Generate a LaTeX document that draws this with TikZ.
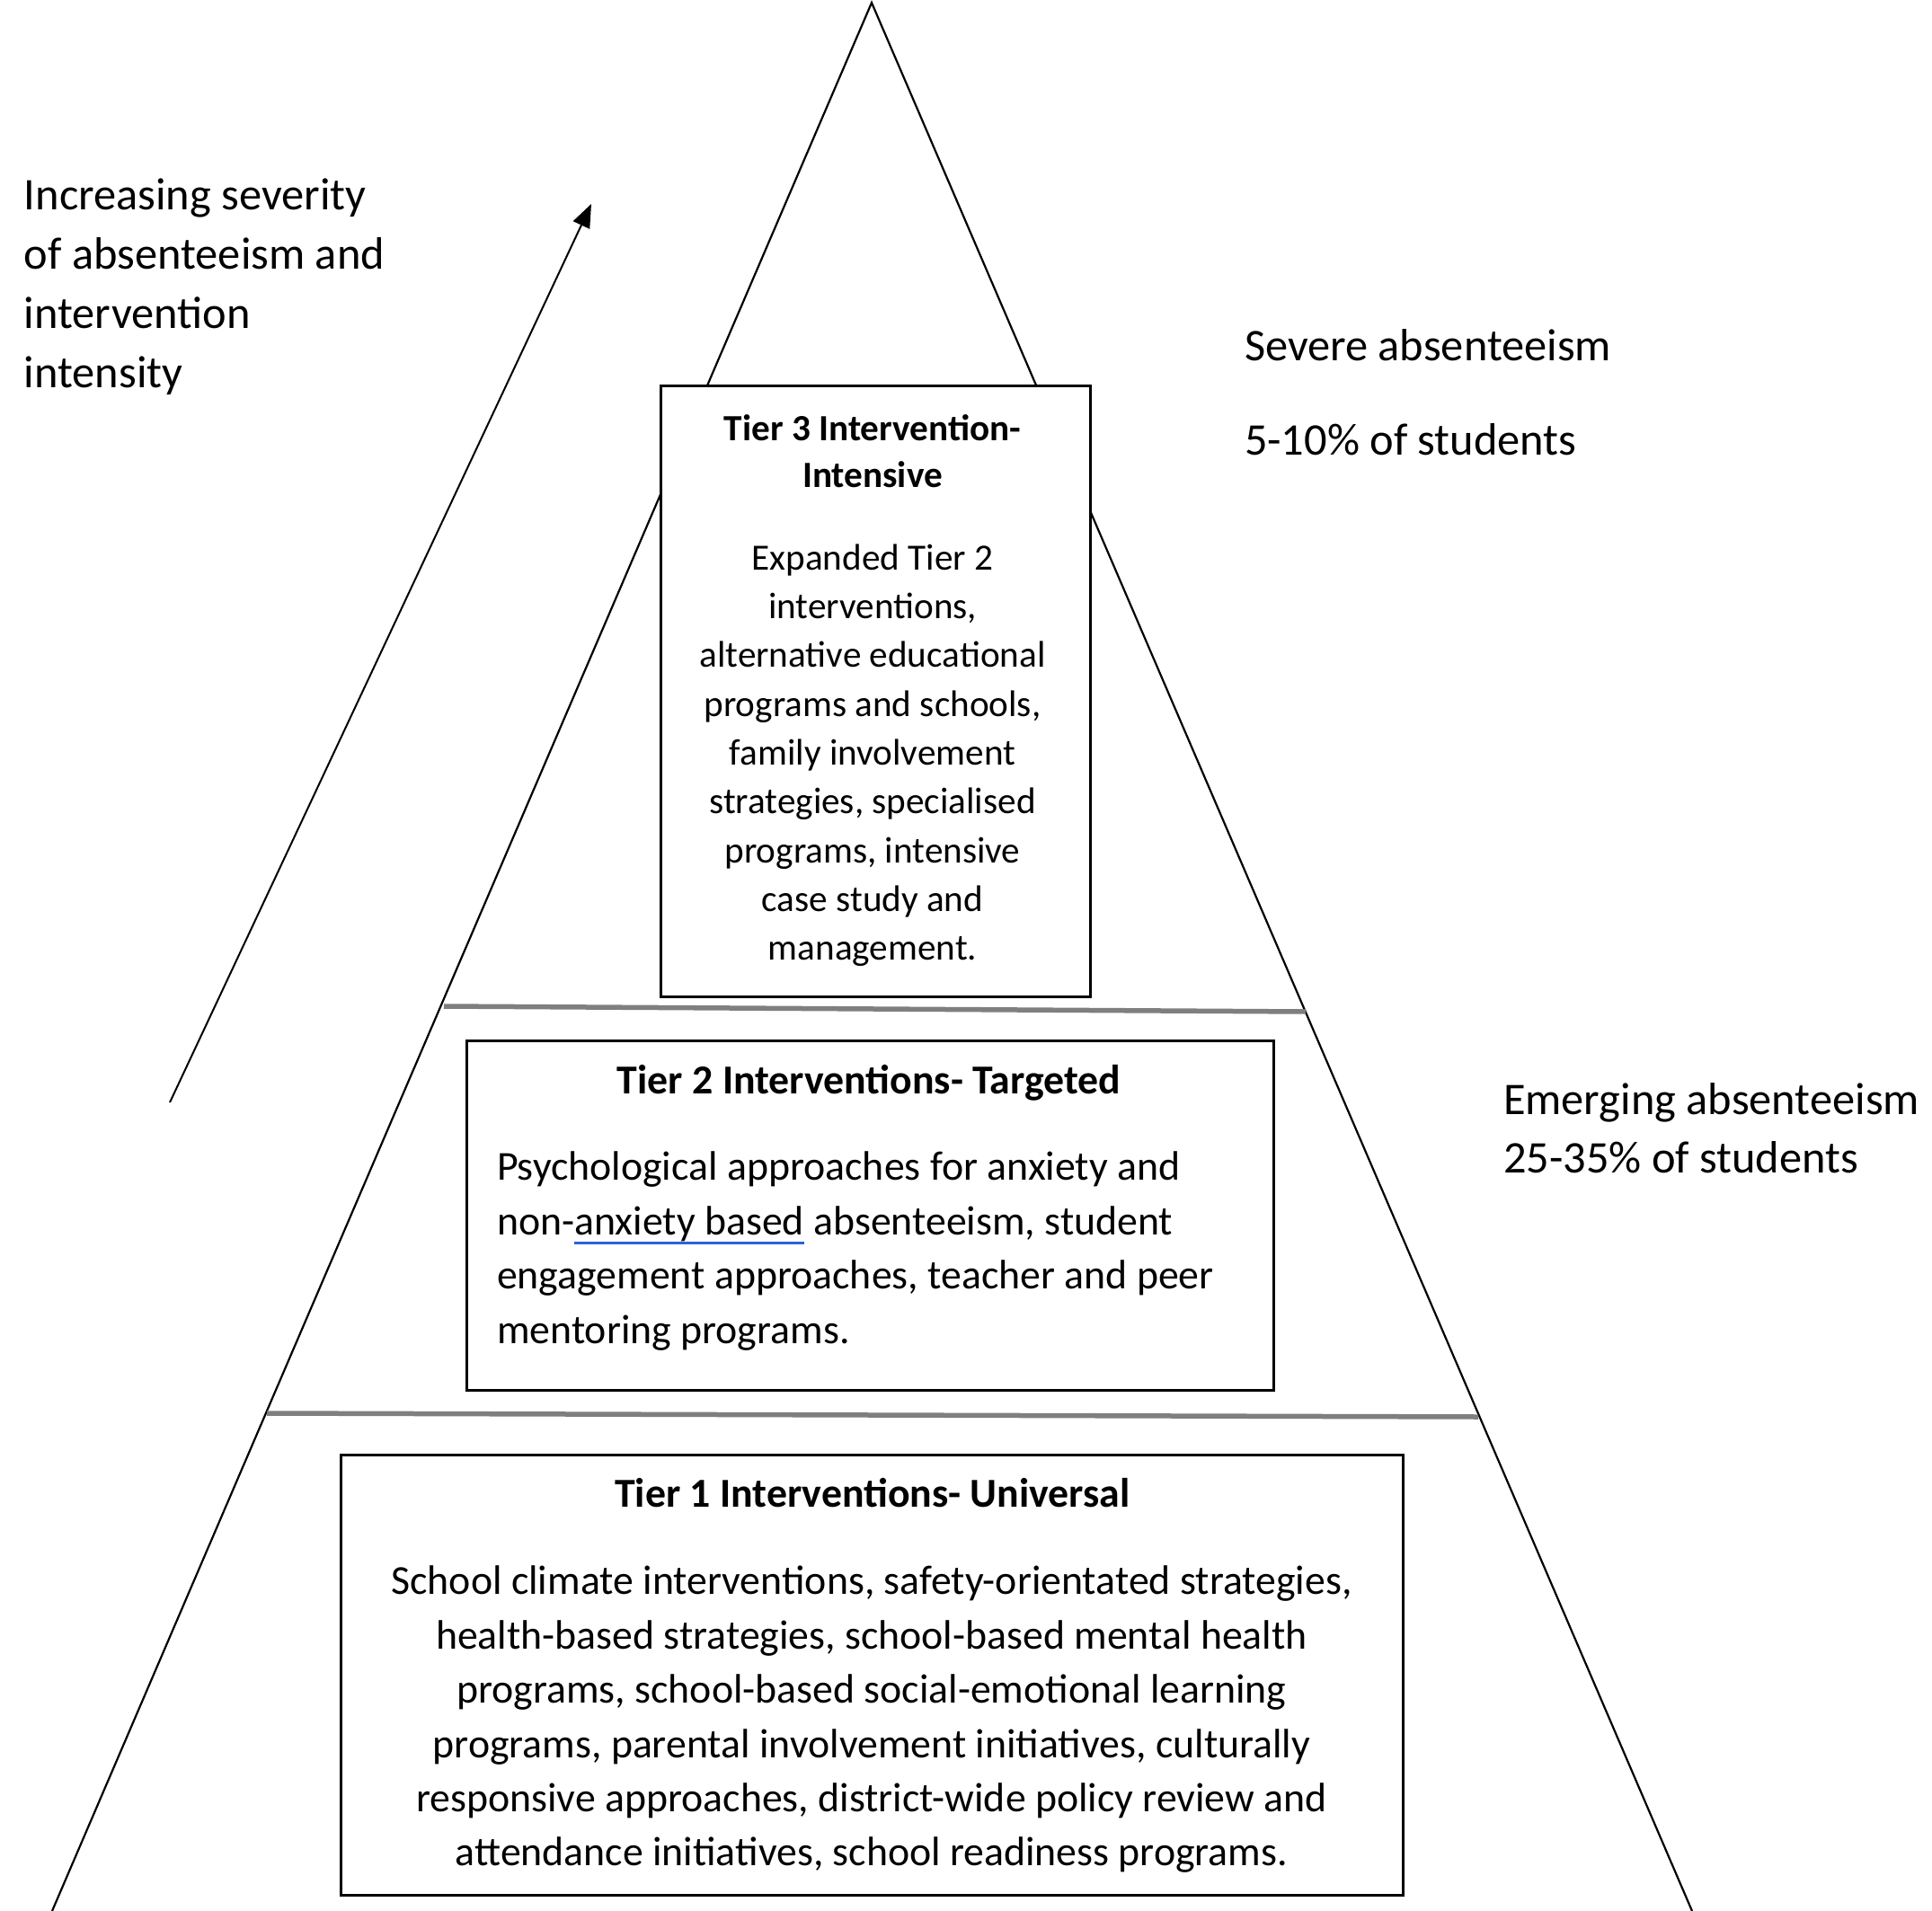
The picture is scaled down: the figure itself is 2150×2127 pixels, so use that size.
\documentclass[tikz,border=0pt]{standalone}
\usepackage{fontspec}
\setmainfont{Carlito}
\usetikzlibrary{arrows.meta}
\definecolor{tierline}{HTML}{7F7F7F}
\definecolor{spellblue}{HTML}{2B62D9}
\newsavebox{\spellbox}
\newcommand{\spellul}[1]{\sbox{\spellbox}{#1}\rlap{\textcolor{spellblue}{\rule[-0.24em]{\wd\spellbox}{0.08em}}}\usebox{\spellbox}}
\newcommand{\firstline}{\rule{0pt}{1em}}
\tikzset{
  pyr/.style={draw=black, line width=2.2pt},
  tierln/.style={draw=tierline, line width=5.5pt},
  tierbox/.style={draw=black, line width=3pt, fill=white, inner sep=0pt, anchor=north west},
  txt/.style={inner sep=0pt, outer sep=0pt, text=black},
  bigtxt/.style={txt, font=\fontsize{50.4}{66}\selectfont},
  midtxt/.style={txt, font=\fontsize{45.8}{60.4}\selectfont},
  midbold/.style={txt, font=\bfseries\fontsize{45.8}{60.4}\selectfont},
  arrowln/.style={draw=black, line width=2pt, -{Triangle[length=26pt,width=20pt]}}
}
\begin{document}
\begin{tikzpicture}[x=1pt, y=-1pt]
\useasboundingbox (0,0) rectangle (2150,2127);
% pyramid
\coordinate (apex) at (970,3);
\coordinate (bl) at (58,2127);
\coordinate (br) at (1883,2127);
\draw[pyr] (bl) -- (apex) -- (br);
% tier dividing lines
\coordinate (aL) at (494,1120);
\coordinate (aR) at (1453,1126);
\coordinate (bL) at (297,1573);
\coordinate (bR) at (1645,1577);
\draw[tierln] (aL) -- (aR);
\draw[tierln] (bL) -- (bR);
% boxes
\node[tierbox, minimum width=478pt, minimum height=680pt] (t3box) at (734,428) {};
\node[tierbox, minimum width=898pt, minimum height=389pt] (t2box) at (518,1157) {};
\node[tierbox, minimum width=1182pt, minimum height=490pt] (t1box) at (378,1618) {};
% Tier 3 text
\node[txt, anchor=north, align=center, font=\bfseries\fontsize{41.2}{52}\selectfont] (t3title) at (971,449)
  {\firstline Tier 3 Intervention-\\Intensive};
\node[txt, anchor=north, align=center, font=\fontsize{41.2}{54.3}\selectfont] (t3body) at (971,593)
  {\firstline Expanded Tier 2\\interventions,\\alternative educational\\programs and schools,\\family involvement\\strategies, specialised\\programs, intensive\\case study and\\management.};
% Tier 2 text
\node[midbold, anchor=base] (t2title) at (967,1217)
  {Tier 2 Interventions- Targeted};
\node[midtxt, anchor=north west, align=left] (t2body) at (553,1268)
  {\firstline Psychological approaches for anxiety and\\non-\spellul{anxiety based} absenteeism, student\\engagement approaches, teacher and peer\\mentoring programs.};
% Tier 1 text
\node[midbold, anchor=base] (t1title) at (971,1677)
  {Tier 1 Interventions- Universal};
\node[midtxt, anchor=north, align=center] (t1body) at (970,1729)
  {\firstline School climate interventions, safety-orientated strategies,\\health-based strategies, school-based mental health\\programs, school-based social-emotional learning\\programs, parental involvement initiatives, culturally\\responsive approaches, district-wide policy review and\\attendance initiatives, school readiness programs.};
% left label and arrow
\node[bigtxt, anchor=north west, align=left] (sevlabel) at (27,183)
  {\firstline Increasing severity\\of absenteeism and\\intervention\\intensity};
\coordinate (arrS) at (189,1227);
\coordinate (arrE) at (658,227);
\draw[arrowln] (arrS) -- (arrE);
% right labels
\node[bigtxt, anchor=base west] (sevA) at (1385,401) {Severe absenteeism};
\node[bigtxt, anchor=base west] (sevB) at (1385,506) {5-10\% of students};
\node[bigtxt, anchor=base west] (emA) at (1673,1240) {Emerging absenteeism};
\node[bigtxt, anchor=base west] (emB) at (1673,1305) {25-35\% of students};
\end{tikzpicture}
\end{document}
